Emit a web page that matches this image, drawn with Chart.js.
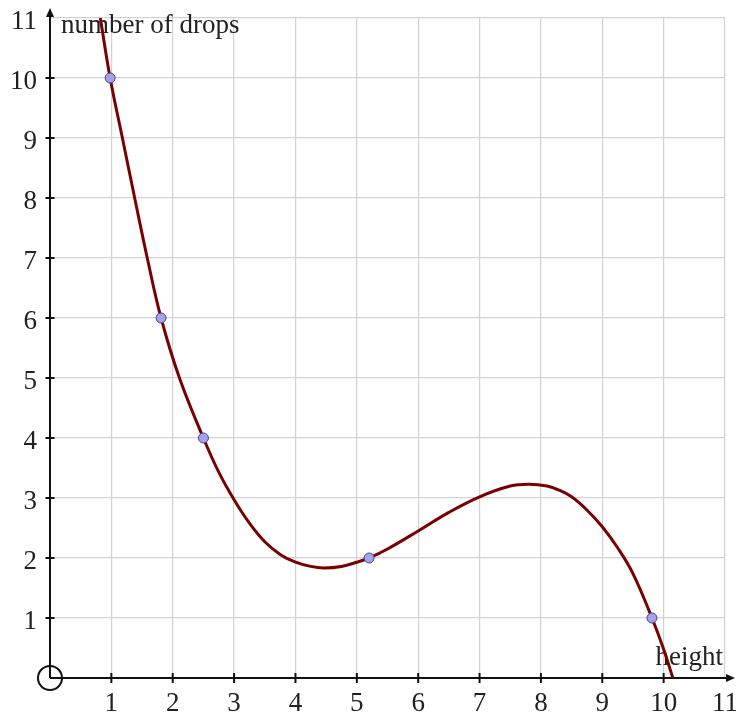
<!DOCTYPE html>
<html>
<head>
<meta charset="utf-8">
<script src="https://cdn.jsdelivr.net/npm/chart.js@4.4.0/dist/chart.umd.min.js"></script>
<style>
html, body { margin: 0; padding: 0; background: #fff; }
#wrap { width: 736px; height: 713px; }
</style>
</head>
<body>
<div id="wrap"><canvas id="chart"></canvas></div>
<script>
// Axis range
const axisMin = 0;
const axisMax = 11;

// Measured points (blue dots)
const pointX = [0.98, 1.81, 2.5, 5.2, 9.81];
const pointY = [10, 6, 4, 2, 1];

// Curve
const curveX = [0.82, 0.98, 1.18, 1.38, 1.585, 1.81, 2.11, 2.5, 2.75, 3.0, 3.25, 3.5, 3.75, 4.0, 4.25, 4.46, 4.75, 5.0, 5.2, 5.5, 6.0, 6.5, 7.0, 7.5, 7.8, 8.1, 8.3, 8.5, 8.75, 9.0, 9.25, 9.5, 9.81, 10.0, 10.15];
const curveY = [11, 10, 9, 8, 7, 6, 5, 4, 3.43, 2.97, 2.58, 2.27, 2.06, 1.93, 1.86, 1.835, 1.86, 1.93, 2.0, 2.15, 2.45, 2.76, 3.02, 3.2, 3.23, 3.2, 3.13, 3.02, 2.8, 2.52, 2.17, 1.74, 1.0, 0.48, 0];

const xTitle = 'height';
const yTitle = 'number of drops';

const FONT = "'Liberation Serif', 'DejaVu Serif', serif";

// Axis lines, arrows, crossing ticks, origin circle and titles
const axesPlugin = {
    id: 'axesPlugin',
    beforeDatasetsDraw(chart) {
        const ctx = chart.ctx;
        const xs = chart.scales.x;
        const ys = chart.scales.y;
        const x0 = xs.getPixelForValue(0);
        const y0 = ys.getPixelForValue(0);
        const xEnd = xs.getPixelForValue(axisMax);
        const yEnd = ys.getPixelForValue(axisMax);

        ctx.save();
        ctx.strokeStyle = '#111';
        ctx.fillStyle = '#111';
        ctx.lineWidth = 2;

        // x axis
        ctx.beginPath();
        ctx.moveTo(x0, y0);
        ctx.lineTo(xEnd + 6, y0);
        ctx.stroke();
        ctx.beginPath();
        ctx.moveTo(xEnd + 10, y0);
        ctx.lineTo(xEnd + 1, y0 - 4);
        ctx.lineTo(xEnd + 1, y0 + 4);
        ctx.closePath();
        ctx.fill();

        // y axis
        ctx.beginPath();
        ctx.moveTo(x0, y0);
        ctx.lineTo(x0, yEnd - 6);
        ctx.stroke();
        ctx.beginPath();
        ctx.moveTo(x0, yEnd - 10);
        ctx.lineTo(x0 - 4, yEnd - 1);
        ctx.lineTo(x0 + 4, yEnd - 1);
        ctx.closePath();
        ctx.fill();

        // crossing tick marks
        for (let v = 1; v < axisMax; v++) {
            const px = xs.getPixelForValue(v);
            ctx.beginPath();
            ctx.moveTo(px, y0 - 5);
            ctx.lineTo(px, y0 + 5);
            ctx.stroke();
            const py = ys.getPixelForValue(v);
            ctx.beginPath();
            ctx.moveTo(x0 - 4.5, py);
            ctx.lineTo(x0 + 4.5, py);
            ctx.stroke();
        }

        // origin circle
        ctx.beginPath();
        ctx.arc(x0, y0, 12, 0, Math.PI * 2);
        ctx.stroke();

        // axis titles
        ctx.font = '27px ' + FONT;
        ctx.fillStyle = '#222';
        ctx.textBaseline = 'alphabetic';
        ctx.textAlign = 'left';
        ctx.fillText(yTitle, x0 + 11, yEnd + 15);
        ctx.textAlign = 'right';
        ctx.fillText(xTitle, xEnd - 2, y0 - 13);
        ctx.restore();
    }
};

const gridColor = ctx => (ctx.tick && ctx.tick.value === 0) ? 'rgba(0,0,0,0)' : '#d2d2d2';

new Chart(document.getElementById('chart'), {
    type: 'scatter',
    data: {
        datasets: [
            {
                label: 'points',
                data: pointX.map((x, i) => ({ x: x, y: pointY[i] })),
                backgroundColor: '#a3a3e6',
                borderColor: '#46469a',
                borderWidth: 1,
                pointRadius: 5,
                order: 0
            },
            {
                label: 'curve',
                data: curveX.map((x, i) => ({ x: x, y: curveY[i] })),
                showLine: true,
                borderColor: '#7a0000',
                borderWidth: 3,
                pointRadius: 0,
                tension: 0.4,
                order: 1
            }
        ]
    },
    plugins: [axesPlugin],
    options: {
        responsive: true,
        maintainAspectRatio: false,
        animation: false,
        events: [],
        layout: { padding: { top: 18, right: 11, left: 0, bottom: 0 } },
        plugins: {
            legend: { display: false },
            tooltip: { enabled: false }
        },
        scales: {
            x: {
                type: 'linear',
                min: axisMin,
                max: axisMax,
                border: { display: false },
                grid: { color: gridColor, lineWidth: 1.2, drawTicks: false },
                ticks: {
                    stepSize: 1,
                    padding: 10,
                    color: '#222',
                    font: { family: FONT, size: 27 },
                    maxRotation: 0,
                    callback: v => v === 0 ? '' : v
                },
                afterFit(scale) {
                    scale.height = 35;
                    scale.paddingLeft = 0;
                    scale.paddingRight = 0;
                }
            },
            y: {
                type: 'linear',
                min: axisMin,
                max: axisMax,
                border: { display: false },
                grid: { color: gridColor, lineWidth: 1.2, drawTicks: false },
                ticks: {
                    stepSize: 1,
                    padding: 13,
                    labelOffset: 4,
                    color: '#222',
                    font: { family: FONT, size: 27 },
                    callback: v => v === 0 ? '' : v
                },
                afterFit(scale) {
                    scale.width = 50;
                    scale.paddingTop = 0;
                    scale.paddingBottom = 0;
                }
            }
        }
    }
});
</script>
</body>
</html>
